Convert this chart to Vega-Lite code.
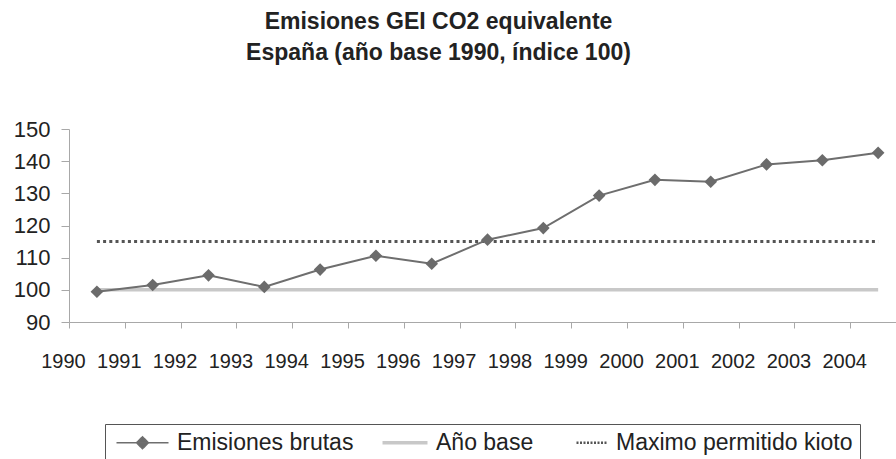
{
  "$schema": "https://vega.github.io/schema/vega-lite/v6.json",
  "autosize": "none",
  "width": 827,
  "height": 193,
  "padding": {"left": 69, "top": 129, "right": 0, "bottom": 137},
  "background": "white",
  "config": {
    "view": {"stroke": null},
    "font": "Liberation Sans",
    "axis": {"labelFont": "Liberation Sans", "labelColor": "#222222", "grid": false, "domainColor": "#a8a8a8", "tickColor": "#a8a8a8", "labelFlush": false, "labelOverlap": false, "labelBound": false},
    "legend": {"labelFont": "Liberation Sans", "layout": {"bottom": {"anchor": "middle"}}}
  },
  "title": {
    "text": ["Emisiones GEI CO2 equivalente", "España (año base 1990, índice 100)"],
    "font": "Liberation Sans",
    "fontSize": 23,
    "fontWeight": "bold",
    "color": "#222222",
    "lineHeight": 31.5,
    "anchor": "middle",
    "frame": "group",
    "dx": -44,
    "offset": 53
  },
  "data": {
    "values": [
      {"year": 1990, "series": "Emisiones brutas", "value": 99.4},
      {"year": 1991, "series": "Emisiones brutas", "value": 101.5},
      {"year": 1992, "series": "Emisiones brutas", "value": 104.5},
      {"year": 1993, "series": "Emisiones brutas", "value": 100.9},
      {"year": 1994, "series": "Emisiones brutas", "value": 106.3},
      {"year": 1995, "series": "Emisiones brutas", "value": 110.6},
      {"year": 1996, "series": "Emisiones brutas", "value": 108.1},
      {"year": 1997, "series": "Emisiones brutas", "value": 115.6},
      {"year": 1998, "series": "Emisiones brutas", "value": 119.2},
      {"year": 1999, "series": "Emisiones brutas", "value": 129.3},
      {"year": 2000, "series": "Emisiones brutas", "value": 134.2},
      {"year": 2001, "series": "Emisiones brutas", "value": 133.6},
      {"year": 2002, "series": "Emisiones brutas", "value": 139.0},
      {"year": 2003, "series": "Emisiones brutas", "value": 140.3},
      {"year": 2004, "series": "Emisiones brutas", "value": 142.6},
      {"year": 1990, "series": "Año base", "value": 100},
      {"year": 1991, "series": "Año base", "value": 100},
      {"year": 1992, "series": "Año base", "value": 100},
      {"year": 1993, "series": "Año base", "value": 100},
      {"year": 1994, "series": "Año base", "value": 100},
      {"year": 1995, "series": "Año base", "value": 100},
      {"year": 1996, "series": "Año base", "value": 100},
      {"year": 1997, "series": "Año base", "value": 100},
      {"year": 1998, "series": "Año base", "value": 100},
      {"year": 1999, "series": "Año base", "value": 100},
      {"year": 2000, "series": "Año base", "value": 100},
      {"year": 2001, "series": "Año base", "value": 100},
      {"year": 2002, "series": "Año base", "value": 100},
      {"year": 2003, "series": "Año base", "value": 100},
      {"year": 2004, "series": "Año base", "value": 100},
      {"year": 1990, "series": "Maximo permitido kioto", "value": 115},
      {"year": 1991, "series": "Maximo permitido kioto", "value": 115},
      {"year": 1992, "series": "Maximo permitido kioto", "value": 115},
      {"year": 1993, "series": "Maximo permitido kioto", "value": 115},
      {"year": 1994, "series": "Maximo permitido kioto", "value": 115},
      {"year": 1995, "series": "Maximo permitido kioto", "value": 115},
      {"year": 1996, "series": "Maximo permitido kioto", "value": 115},
      {"year": 1997, "series": "Maximo permitido kioto", "value": 115},
      {"year": 1998, "series": "Maximo permitido kioto", "value": 115},
      {"year": 1999, "series": "Maximo permitido kioto", "value": 115},
      {"year": 2000, "series": "Maximo permitido kioto", "value": 115},
      {"year": 2001, "series": "Maximo permitido kioto", "value": 115},
      {"year": 2002, "series": "Maximo permitido kioto", "value": 115},
      {"year": 2003, "series": "Maximo permitido kioto", "value": 115},
      {"year": 2004, "series": "Maximo permitido kioto", "value": 115}
    ]
  },
  "encoding": {
    "x": {
      "field": "year",
      "type": "quantitative",
      "scale": {"domain": [1989.5, 2004.32], "nice": false, "zero": false},
      "axis": {
        "title": null,
        "values": [1989.5, 1990.5, 1991.5, 1992.5, 1993.5, 1994.5, 1995.5, 1996.5, 1997.5, 1998.5, 1999.5, 2000.5, 2001.5, 2002.5, 2003.5],
        "labelExpr": "datum.value + 0.5",
        "tickSize": 6,
        "labelFontSize": 20,
        "labelPadding": 23,
        "labelOffset": -6
      }
    },
    "y": {
      "field": "value",
      "type": "quantitative",
      "scale": {"domain": [90, 150], "nice": false, "zero": false},
      "axis": {
        "title": null,
        "values": [90, 100, 110, 120, 130, 140, 150],
        "tickSize": 8,
        "labelFontSize": 22,
        "labelPadding": 11
      }
    }
  },
  "layer": [
    {
      "transform": [{"filter": "datum.series === 'Año base'"}],
      "mark": {"type": "line", "strokeWidth": 3.5},
      "encoding": {
        "color": {
          "field": "series",
          "type": "nominal",
          "scale": {"domain": ["Emisiones brutas", "Año base", "Maximo permitido kioto"], "range": ["#6e6e6e", "#c8c8c8", "#555555"]},
          "legend": {
            "title": null,
            "orient": "bottom",
            "direction": "horizontal",
            "offset": 53,
            "labelFontSize": 23,
            "labelColor": "#222222",
            "labelLimit": 0,
            "labelOffset": 2,
            "strokeColor": "#555555",
            "padding": 7,
            "columnPadding": 17,
            "symbolSize": 100,
            "symbolOffset": 40,
            "encode": {
              "symbols": {
                "update": {
                  "shape": {"signal": "datum.value === 'Emisiones brutas' ? 'M-9.4,0H1M-4.2,-1.2L-3,0L-4.2,1.2L-5.4,0Z' : datum.value === 'Año base' ? 'M-8,0H1' : 'M-5.2,0H1'"},
                  "fill": {"signal": "datum.value === 'Emisiones brutas' ? '#6b6b6b' : 'transparent'"},
                  "stroke": {"signal": "datum.value === 'Emisiones brutas' ? '#6e6e6e' : datum.value === 'Año base' ? '#c8c8c8' : '#555555'"},
                  "strokeWidth": {"signal": "datum.value === 'Emisiones brutas' ? 1.5 : datum.value === 'Año base' ? 3.5 : 2.5"},
                  "strokeDash": {"signal": "datum.value === 'Maximo permitido kioto' ? [2, 1.5] : [1, 0]"}
                }
              }
            }
          }
        }
      }
    },
    {
      "transform": [{"filter": "datum.series === 'Maximo permitido kioto'"}],
      "mark": {"type": "line", "strokeWidth": 3, "strokeDash": [3, 3.2]},
      "encoding": {"color": {"field": "series", "type": "nominal"}}
    },
    {
      "transform": [{"filter": "datum.series === 'Emisiones brutas'"}],
      "mark": {"type": "line", "strokeWidth": 2},
      "encoding": {"color": {"field": "series", "type": "nominal"}}
    },
    {
      "transform": [{"filter": "datum.series === 'Emisiones brutas'"}],
      "mark": {"type": "point", "shape": "diamond", "filled": true, "size": 160, "color": "#6b6b6b", "opacity": 1},
      "encoding": {}
    }
  ]
}
